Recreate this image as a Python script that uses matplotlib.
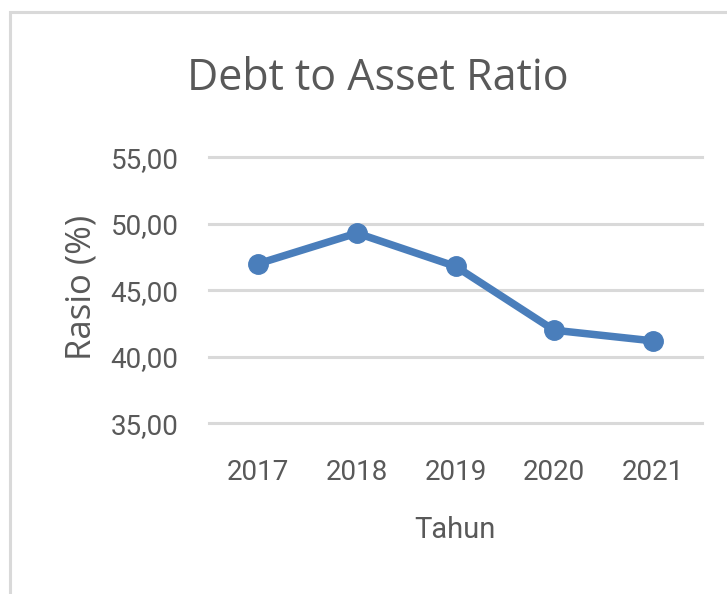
import matplotlib
matplotlib.use('Agg')
import matplotlib.pyplot as plt
from matplotlib.patches import Rectangle
from matplotlib.ticker import FuncFormatter

years = ['2017', '2018', '2019', '2020', '2021']
ratio = [47.0, 49.3, 46.8, 42.0, 41.2]
y_ticks = [35, 40, 45, 50, 55]

GREY_TXT = '#595959'
GRID = '#d9d9d9'
LINE = '#4a7ebb'
TICK_FONT = 'Roboto'

fig = plt.figure(figsize=(7.27, 5.94), dpi=100)
ax = fig.add_axes([209 / 727, 1 - 423.3 / 594, 493 / 727, 266 / 594])

# chart frame (cut off on the right and bottom in the reference)
fig.patches.append(Rectangle((10 / 727, -0.05), 1.2, 1 - 12 / 594 + 0.05,
                             transform=fig.transFigure, fill=False,
                             edgecolor=GRID, linewidth=2.2))

x = range(len(years))
ax.plot(x, ratio, color=LINE, linewidth=5.4, marker='o', markersize=14,
        solid_capstyle='round', zorder=3)

ax.set_xlim(-0.5, len(years) - 0.5)
ax.set_ylim(35, 55)
ax.set_yticks(y_ticks)
ax.yaxis.set_major_formatter(FuncFormatter(lambda v, p: f'{v:.2f}'.replace('.', ',')))
ax.set_xticks(list(x))
ax.set_xticklabels(years)
ax.grid(axis='y', color=GRID, linewidth=2.2)
for gl in ax.get_ygridlines():
    gl.set_clip_on(False)
ax.set_axisbelow(True)
for s in ax.spines.values():
    s.set_visible(False)
ax.tick_params(length=0, colors=GREY_TXT, labelsize=20)
ax.tick_params(axis='y', pad=22)
ax.tick_params(axis='x', pad=26)
for lab in ax.get_xticklabels() + ax.get_yticklabels():
    lab.set_family(TICK_FONT)

fig.text(82 / 727, 1 - 287 / 594, 'Rasio (%)', rotation=90, ha='center', va='center',
         fontsize=25, color=GREY_TXT, family='Open Sans')
fig.text(455 / 727, 1 - 530 / 594, 'Tahun', ha='center', va='center',
         fontsize=21, color=GREY_TXT, family=TICK_FONT)
fig.text(378 / 727, 1 - 79 / 594, 'Debt to Asset Ratio', ha='center', va='center',
         fontsize=31, color=GREY_TXT, family='Open Sans')

fig.savefig('out.png', dpi=100)
